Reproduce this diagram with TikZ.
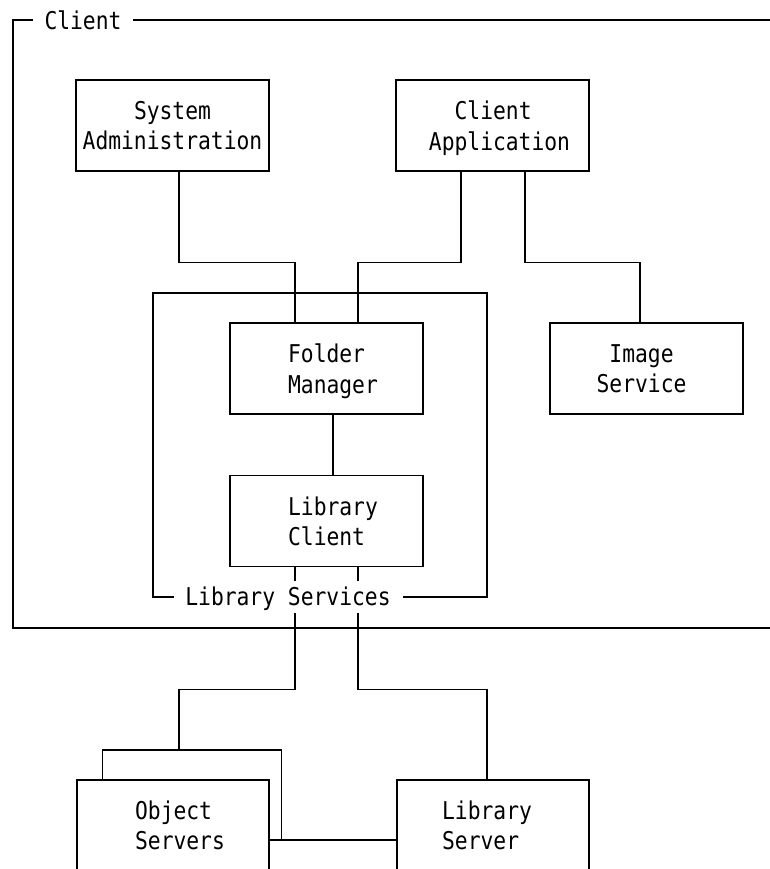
\documentclass[tikz,border=0pt]{standalone}
\usepackage{fontspec}
\newfontfamily\diagfont[FakeStretch=0.87]{DejaVu Sans Mono}
\newcommand{\indentchars}[1]{\hphantom{#1}}
\begin{document}
\begin{tikzpicture}[x=1pt,y=-1pt,
  line width=1.2pt,
  txt/.style={font=\diagfont\fontsize{24.5}{30.3}\selectfont, align=left, text depth=0pt, inner sep=0pt},
  box/.style={draw, fill=white, rectangle, inner sep=0pt, minimum height=91, minimum width=193},
  gaplabel/.style={txt, fill=white}
]
\useasboundingbox (0,0) rectangle (770,869);
\clip (0,0) rectangle (770,869);

% outer "Client" frame (open on the right)
\draw (770,20) -- (13,20) -- (13,628) -- (770,628);

% "Library Services" frame
\draw (153,293) rectangle (487,597);

% boxes
\node[box] (sa) at (172.5,125.5) {};
\node[box] (ca) at (492.5,125.5) {};
\node[box] (fm) at (326.5,368.5) {};
\node[box] (is) at (646.5,368.5) {};
\node[box] (lc) at (326.5,521) {};

% stacked Object Servers: back sheet
\coordinate (bknw) at (102.5,780);
\coordinate (bktl) at (102.5,750);
\coordinate (bktr) at (281.5,750);
\coordinate (bkbr) at (281.5,840);
\coordinate (ostop) at (179,750);
\draw (bknw) -- (bktl) -- (bktr) -- (bkbr);

\node[box, minimum width=192] (os) at (173,825.5) {};
\node[box, minimum width=192] (ls) at (493,825.5) {};

% box texts, laid out on the character grid
\node[txt] (satext) at (sa.center) {\indentchars{xxxx}System\\Administration};
\node[txt] (catext) at ([xshift=7]ca.center) {\indentchars{xx}Client\\Application};
\node[txt] (fmtext) at ([xshift=6.5]fm.center) {Folder\\Manager};
\node[txt] (istext) at ([xshift=-5]is.center) {\indentchars{x}Image\\Service};
\node[txt] (lctext) at ([xshift=6.5]lc.center) {Library\\Client};
\node[txt] (ostext) at ([xshift=7]os.center) {Object\\Servers};
\node[txt] (lstext) at ([xshift=-6]ls.center) {Library\\Server};

% connectors
\draw ([xshift=6.5]sa.south) -- ++(0,91) -| ([xshift=-31.5]fm.north);
\draw ([xshift=-31.5]ca.south) -- ++(0,91) -| ([xshift=31.5]fm.north);
\draw ([xshift=32.5]ca.south) -- ++(0,91) -| ([xshift=-6.5]is.north);
\draw ([xshift=6.5]fm.south) -- ([xshift=6.5]lc.north);
\draw ([xshift=-31.5]lc.south) -- ++(0,122) -| (ostop);
\draw ([xshift=31.5]lc.south) -- ++(0,122) -| ([xshift=-6]ls.north);
\draw ([yshift=-14.5]os.east) -- ([yshift=-14.5]ls.west);

% frame titles
\node[gaplabel, minimum width=100, minimum height=20] (clientlbl) at (83,20) {Client};
\node[gaplabel, minimum width=229, minimum height=32] (libsvc) at (288,596.5) {Library Services};
\end{tikzpicture}
\end{document}
